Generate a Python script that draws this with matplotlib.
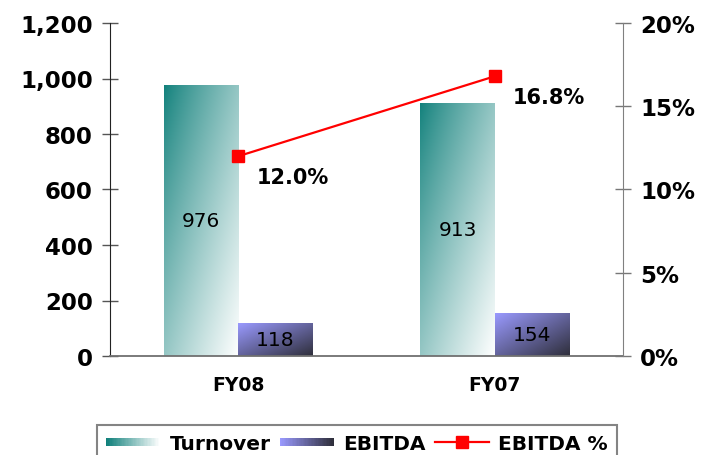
import numpy as np
import matplotlib
matplotlib.use("Agg")
import matplotlib.pyplot as plt
from matplotlib.patches import Rectangle
from matplotlib.lines import Line2D
from matplotlib.legend_handler import HandlerBase
from matplotlib.colors import to_rgb
from matplotlib.ticker import FuncFormatter

categories = ["FY08", "FY07"]
turnover = [976, 913]
ebitda = [118, 154]
ebitda_pct = [12.0, 16.8]
left_ticks = [0, 200, 400, 600, 800, 1000, 1200]
right_ticks = [0, 5, 10, 15, 20]

TEAL = "#10807b"
WHITE = "#ffffff"
VIOLET = "#9a9aff"
DARK = "#2e2e3a"

plt.rcParams['font.family'] = ['DejaVu Sans']

fig = plt.figure(figsize=(7.1, 4.56), dpi=100)
ax = fig.add_axes([110/710, 1-357/456, (623-110)/710, (357-24)/456])
ax2 = ax.twinx()

x = np.arange(len(categories))
w = 0.29
b1 = ax.bar(x - w/2, turnover, w, facecolor="none", edgecolor="none")
b2 = ax.bar(x + w/2, ebitda, w, facecolor="none", edgecolor="none")


def gradient_fill(ax, bar, c0, c1, gamma=1.0):
    bx, by = bar.get_xy()
    bw, bh = bar.get_width(), bar.get_height()
    n = 200
    u = np.linspace(0, 1, n)
    U, V = np.meshgrid(u, u)
    t = np.clip((U + V) / 2, 0, 1) ** gamma
    a = np.array(to_rgb(c0)); b = np.array(to_rgb(c1))
    img = a[None, None, :] * (1 - t[..., None]) + b[None, None, :] * t[..., None]
    im = ax.imshow(img, extent=[bx, bx + bw, by, by + bh], origin="upper",
                   aspect="auto", zorder=2, interpolation="bilinear")
    im.set_clip_path(bar)


for bar in b1:
    gradient_fill(ax, bar, TEAL, WHITE, gamma=0.85)
for bar in b2:
    gradient_fill(ax, bar, VIOLET, DARK)

for bar, v in zip(list(b1) + list(b2), turnover + ebitda):
    ax.text(bar.get_x() + bar.get_width()/2, bar.get_height()/2, str(v),
            ha="center", va="center", fontsize=14.5, color="black", zorder=5)

ax.set_xlim(-0.5, 1.5)
ax.set_ylim(0, 1200)
ax.set_yticks(left_ticks)
ax.yaxis.set_major_formatter(FuncFormatter(lambda v, p: f"{int(v):,}"))
ax.set_xticks(x)
ax.set_xticklabels(categories, fontsize=13.5, fontweight="bold")
ax.tick_params(axis="x", length=0, pad=14)
ax.tick_params(axis="y", direction="inout", length=11, width=1, pad=7,
               labelsize=16.5, color="#555555")
for lab in ax.get_yticklabels():
    lab.set_fontweight("bold")

ln, = ax2.plot(x, ebitda_pct, color="#ff0000", lw=1.6, marker="s",
               markersize=9, zorder=6)
ax2.set_ylim(0, 20)
ax2.set_yticks(right_ticks)
ax2.yaxis.set_major_formatter(FuncFormatter(lambda v, p: f"{int(v)}%"))
ax2.tick_params(axis="y", direction="inout", length=11, width=1, pad=7,
                labelsize=16.5, color="#777777")
for lab in ax2.get_yticklabels():
    lab.set_fontweight("bold")
for xi, v in zip(x, ebitda_pct):
    ax2.annotate(f"{v:.1f}%", (xi, v), xytext=(13, -15), textcoords="offset points",
                 ha="left", va="center", fontsize=15, fontweight="bold")

for a in (ax, ax2):
    a.spines["top"].set_visible(False)
ax.spines["left"].set_color("#222222")
ax2.spines["left"].set_visible(False)
ax.spines["right"].set_visible(False)
ax2.spines["right"].set_color("#808080")
ax.spines["bottom"].set_color("#707070")
ax.spines["bottom"].set_linewidth(1.3)
ax2.spines["bottom"].set_visible(False)


class GradientHandler(HandlerBase):
    def __init__(self, c0, c1):
        super().__init__()
        self.c0 = np.array(to_rgb(c0)); self.c1 = np.array(to_rgb(c1))

    def create_artists(self, legend, orig_handle, xdescent, ydescent, width,
                       height, fontsize, trans):
        n = 40
        arts = []
        hh = height * 0.6
        y0 = -ydescent + (height - hh) / 2
        for i in range(n):
            t = i / (n - 1)
            c = self.c0 * (1 - t) + self.c1 * t
            r = Rectangle((-xdescent + width * i / n, y0), width / n * 1.05, hh,
                          facecolor=c, edgecolor="none", transform=trans)
            arts.append(r)
        return arts


h1 = Rectangle((0, 0), 1, 1, label="Turnover")
h2 = Rectangle((0, 0), 1, 1, label="EBITDA")
h3 = Line2D([], [], color="#ff0000", lw=1.6, marker="s", markersize=8, label="EBITDA %")

leg = fig.legend([h1, h2, h3], ["Turnover", "EBITDA", "EBITDA %"],
                 handler_map={h1: GradientHandler(TEAL, WHITE),
                              h2: GradientHandler(VIOLET, DARK)},
                 loc="upper left", bbox_to_anchor=(97/710, 1-426/456),
                 ncol=3, frameon=True, fancybox=False, borderpad=0.45,
                 borderaxespad=0, handlelength=2.7, handletextpad=0.45,
                 columnspacing=0.45,
                 prop={"weight": "bold", "size": 14.5})
leg.get_frame().set_edgecolor("#666666")
leg.get_frame().set_linewidth(1.5)

fig.savefig("out.png", dpi=100)
